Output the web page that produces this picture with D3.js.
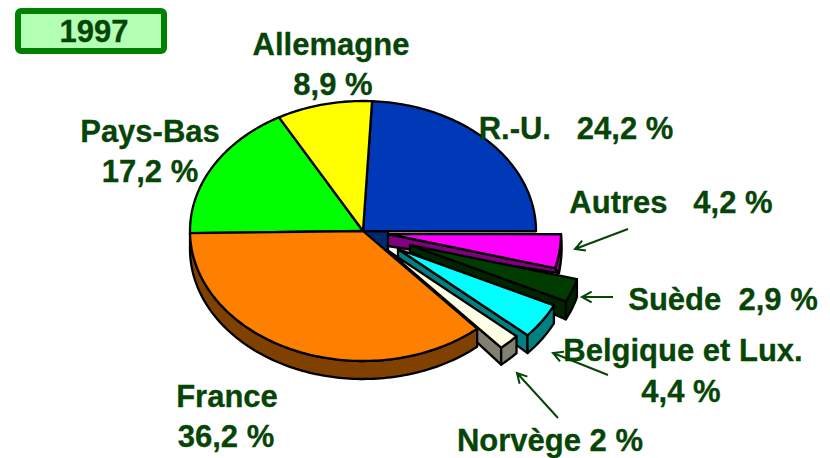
<!DOCTYPE html>
<html>
<head>
<meta charset="utf-8">
<script src="https://cdn.jsdelivr.net/npm/d3@7"></script>
<style>
  html, body { margin: 0; padding: 0; background: #fff; }
  svg { display: block; }
  text { font-family: "Liberation Sans", Arial, sans-serif; font-weight: bold; font-size: 31px; fill: #064506; stroke: #064506; stroke-width: 0.3px; white-space: pre; }
</style>
</head>
<body>
<div id="chart"></div>
<script>
// Data, clockwise from the top of the pie
const year = "1997";
const countries = ["R.-U.", "Autres", "Suède", "Belgique et Lux.", "Norvège", "France", "Pays-Bas", "Allemagne"];
const shares = [24.2, 4.2, 2.9, 4.4, 2, 36.2, 17.2, 8.9];

const faceColors = ["#0039b8", "#ff00ff", "#003c00", "#00ffff", "#ffffe6", "#ff8000", "#00ff00", "#ffff00"];
const wallColors = ["#002a70", "#800080", "#002400", "#008080", "#808070", "#804000", "#008000", "#808000"];

// Pulled-out slices: offset of the slice and the drop of its side walls
const explode = {
  "Autres": { dx: 25, dy: 3, apexDrop: 12, rimStart: 0, rimEnd: 5, rimShift: 4 },
  "Suède": { dx: 47, dy: 14, apexDrop: 7, rimStart: 18, rimEnd: 18, rimShift: 0 },
  "Belgique et Lux.": { dx: 35, dy: 18, apexDrop: 9, rimStart: 18, rimEnd: 18, rimShift: 0 },
  "Norvège": { dx: 24, dy: 19, apexDrop: 9, rimStart: 17, rimEnd: 17, rimShift: 0 },
};

const width = 830;
const height = 458;
const cx = 363;
const cy = 231;
const depth = 18;

const xScale = d3.scaleLinear().domain([-1, 1]).range([cx - 173, cx + 173]);
const yScale = d3.scaleLinear().domain([-1, 1]).range([cy - 130, cy + 130]);

const startAngle = (3 * Math.PI) / 180;
const pie = d3.pie().sort(null).startAngle(startAngle).endAngle(startAngle + 2 * Math.PI);
const slices = pie(shares).map((d, i) => ({
  ...d,
  name: countries[i],
  face: faceColors[i],
  wall: wallColors[i],
  off: explode[countries[i]] || { dx: 0, dy: 0 },
}));

const line = d3.line();

// Point on the rim of the top ellipse
function rim(angle, off) {
  return [xScale(Math.sin(angle)) + off.dx, yScale(-Math.cos(angle)) + off.dy];
}

function rimPoints(d) {
  const n = Math.ceil((d.endAngle - d.startAngle) / 0.02);
  return d3.range(n + 1).map((k) => rim(d.startAngle + ((d.endAngle - d.startAngle) * k) / n, d.off));
}

const svg = d3.select("#chart").append("svg").attr("width", width).attr("height", height);

function poly(points, fill) {
  svg
    .append("path")
    .attr("d", line(points) + "Z")
    .attr("fill", fill)
    .attr("stroke", "#000")
    .attr("stroke-width", 2.3)
    .attr("stroke-linejoin", "round");
}

function drawFace(d) {
  const apex = [cx + d.off.dx, cy + d.off.dy];
  poly([apex, ...rimPoints(d)], d.face);
}

// Walls of a pulled-out slice: cut edge first, then outer rim
function drawExploded(d) {
  const apex = [cx + d.off.dx, cy + d.off.dy];
  const pts = rimPoints(d);
  const last = pts[pts.length - 1];
  poly(
    [apex, last, [last[0] + d.off.rimShift, last[1] + d.off.rimEnd], [apex[0], apex[1] + d.off.apexDrop]],
    d.wall
  );
  const lower = pts
    .map((p, k) => {
      const t = k / (pts.length - 1);
      return [p[0] + d.off.rimShift * t, p[1] + d.off.rimStart + (d.off.rimEnd - d.off.rimStart) * t];
    })
    .reverse();
  poly([...pts, ...lower], d.wall);
  drawFace(d);
}

const bySlice = new Map(slices.map((d) => [d.name, d]));

// Inner wall of R.-U., seen in the gap left by the pulled-out slices
const firstOff = explode["Autres"];
poly(
  [[cx, cy], [cx + firstOff.dx, cy], [cx + firstOff.dx, cy + 19], [cx + 14, cy + 19]],
  bySlice.get("R.-U.").wall
);

["R.-U.", "Pays-Bas", "Allemagne"].forEach((n) => drawFace(bySlice.get(n)));
["Autres", "Suède", "Belgique et Lux.", "Norvège"].forEach((n) => drawExploded(bySlice.get(n)));

// France sits in front, with its thick wall
const france = bySlice.get("France");
const francePts = rimPoints(france);
poly([...francePts, ...francePts.map((p) => [p[0], p[1] + depth]).reverse()], france.wall);
drawFace(france);

// Year box
svg
  .append("rect")
  .attr("x", 18)
  .attr("y", 11)
  .attr("width", 146)
  .attr("height", 40)
  .attr("rx", 3)
  .attr("fill", "#b3ffb3")
  .attr("stroke", "#008000")
  .attr("stroke-width", 6);

const pct = (name) => `${String(shares[countries.indexOf(name)]).replace(".", ",")} %`;

const labels = [
  { text: year, x: 94, y: 42 },
  { text: "Allemagne", x: 331, y: 55 },
  { text: pct("Allemagne"), x: 333, y: 95 },
  { text: "Pays-Bas", x: 150, y: 142 },
  { text: pct("Pays-Bas"), x: 150, y: 182 },
  { text: `R.-U.   ${pct("R.-U.")}`, x: 576, y: 139 },
  { text: `Autres   ${pct("Autres")}`, x: 671, y: 213 },
  { text: `Suède  ${pct("Suède")}`, x: 723, y: 310 },
  { text: "Belgique et Lux.", x: 683, y: 361 },
  { text: pct("Belgique et Lux."), x: 681, y: 402 },
  { text: "France", x: 227, y: 407 },
  { text: pct("France"), x: 226, y: 447 },
  { text: `Norvège ${shares[countries.indexOf("Norvège")]} %`, x: 550, y: 451 },
];

svg
  .selectAll(".label")
  .data(labels)
  .enter()
  .append("text")
  .attr("class", "label")
  .attr("x", (d) => d.x)
  .attr("y", (d) => d.y)
  .attr("text-anchor", "middle")
  .text((d) => d.text);

// Leader arrows
const arrows = [
  [[628, 229], [575, 249]],
  [[613, 297], [582, 297]],
  [[608, 375], [553, 353]],
  [[558, 418], [517, 373]],
];

arrows.forEach(([from, to]) => {
  const a = Math.atan2(from[1] - to[1], from[0] - to[0]);
  const head = (s) => [to[0] + 11 * Math.cos(a + s), to[1] + 11 * Math.sin(a + s)];
  svg
    .append("path")
    .attr("d", line([from, to]) + line([head(0.5), to, head(-0.5)]))
    .attr("fill", "none")
    .attr("stroke", "#064506")
    .attr("stroke-width", 2);
});
</script>
</body>
</html>
